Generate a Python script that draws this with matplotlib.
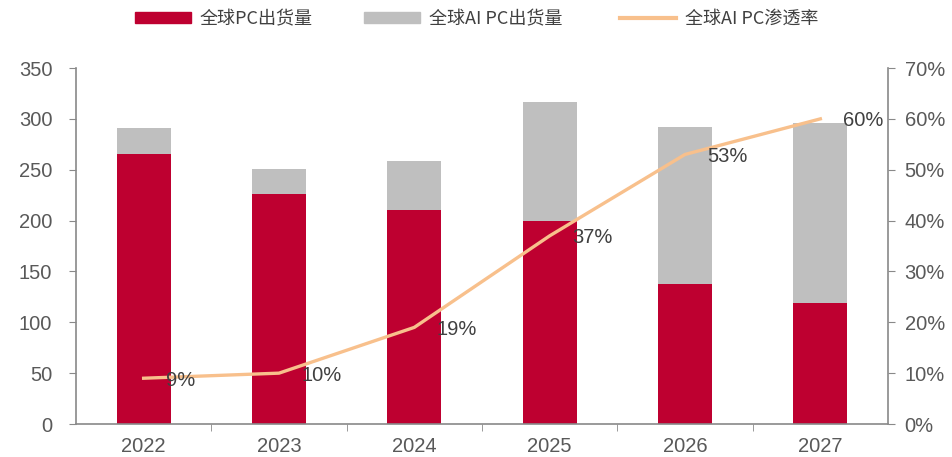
import matplotlib.pyplot as plt
import numpy as np
from matplotlib.ticker import FixedLocator, PercentFormatter
from matplotlib.patches import Patch
from matplotlib.lines import Line2D

plt.rcParams["font.family"] = ["Liberation Sans", "Noto Sans CJK SC", "DejaVu Sans"]

years = ["2022", "2023", "2024", "2025", "2026", "2027"]
pc_ship = [265, 226, 210, 200, 138, 119]
ai_pc_ship = [26, 25, 49, 117, 154, 177]
ai_pc_rate = [9, 10, 19, 37, 53, 60]
legend_labels = ["全球PC出货量", "全球AI PC出货量", "全球AI PC渗透率"]

RED, GREY, ORANGE, AXIS, TXT = "#BE0030", "#BFBFBF", "#F8C08C", "#898989", "#404040"

fig = plt.figure(figsize=(9.52, 4.57), dpi=100)
ax = fig.add_axes([0.0798, 0.0722, 0.853, 0.779])
x = np.arange(len(years))

ax.bar(x, pc_ship, width=0.4, color=RED, zorder=2)
ax.bar(x, ai_pc_ship, width=0.4, bottom=pc_ship, color=GREY, zorder=2)
ax.set_xlim(-0.5, len(years) - 0.5)
ax.set_ylim(0, 350)
ax.set_yticks(range(0, 351, 50))
ax.set_xticks(x)
ax.set_xticklabels(years)
ax.xaxis.set_minor_locator(FixedLocator(x[:-1] + 0.5))
ax.tick_params(axis="x", which="major", length=0, pad=9.5, labelsize=14.5, colors="#595959")
ax.tick_params(axis="x", which="minor", length=5, color=AXIS, direction="out")
ax.tick_params(axis="y", length=5, color=AXIS, labelsize=14.5, labelcolor="#595959", pad=12)

ax2 = ax.twinx()
ax2.plot(x, ai_pc_rate, color=ORANGE, lw=2.4, zorder=3)
ax2.set_ylim(0, 70)
ax2.set_yticks(range(0, 71, 10))
ax2.yaxis.set_major_formatter(PercentFormatter(decimals=0))
ax2.tick_params(axis="y", length=5, color=AXIS, labelsize=14.5, labelcolor="#595959", pad=7)
for xi, v in zip(x, ai_pc_rate):
    ax2.annotate(f"{v}%", (xi, v), xytext=(16, -1.5), textcoords="offset points",
                 ha="left", va="center", fontsize=14.5, color=TXT)

for a in (ax, ax2):
    a.spines["top"].set_visible(False)
    for s in ("left", "right", "bottom"):
        a.spines[s].set_color(AXIS)
        a.spines[s].set_linewidth(1.2)
ax.spines["right"].set_visible(False)
ax2.spines["left"].set_visible(False)
ax2.spines["bottom"].set_visible(False)

handles = [Patch(color=RED), Patch(color=GREY), Line2D([], [], color=ORANGE, lw=3)]
for h, lab, x0 in zip(handles, legend_labels, [135, 364, 620]):
    fig.legend([h], [lab], loc="center left", bbox_to_anchor=(x0 / 952, 1 - 19 / 457),
               frameon=False, borderpad=0, borderaxespad=0, handlelength=3.1,
               handleheight=0.6, handletextpad=0.5,
               prop={"family": ["Noto Sans CJK SC"], "size": 13}, labelcolor="#404040")

fig.savefig("out.png", dpi=100, facecolor="white")
